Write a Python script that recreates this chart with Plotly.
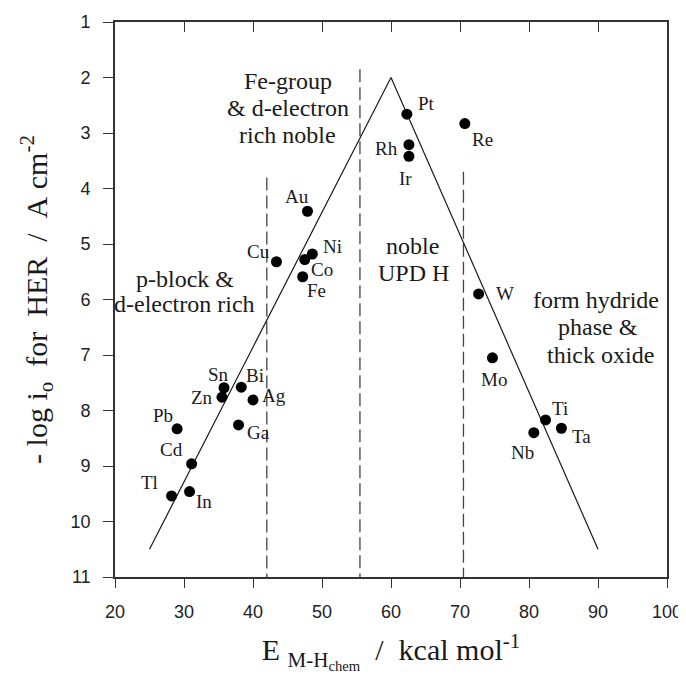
import plotly.graph_objects as go

# ---- data ----
metals = ["Pt", "Re", "Rh", "Ir", "W", "Mo", "Ti", "Ta", "Nb", "Au", "Cu", "Ni",
          "Co", "Fe", "Sn", "Zn", "Bi", "Ag", "Ga", "Pb", "Cd", "Tl", "In"]
e_mh = [62.3, 70.7, 62.6, 62.6, 72.7, 74.7, 82.4, 84.7, 80.7, 47.9, 43.4, 48.6,
        47.5, 47.2, 35.8, 35.5, 38.3, 40.0, 37.9, 29.0, 31.1, 28.2, 30.8]
log_i0 = [2.66, 2.83, 3.21, 3.42, 5.90, 7.05, 8.17, 8.32, 8.40, 4.41, 5.32, 5.18,
          5.28, 5.59, 7.59, 7.76, 7.58, 7.81, 8.26, 8.33, 8.96, 9.54, 9.46]

volcano_x = [25, 60, 90]
volcano_y = [10.5, 2.0, 10.5]

divider_x = [42, 55.5, 70.5]
divider_top = [3.8, 1.85, 3.7]

x_ticks = [20, 30, 40, 50, 60, 70, 80, 90, 100]
y_ticks = [1, 2, 3, 4, 5, 6, 7, 8, 9, 10, 11]

region_lines = ["Fe-group", "& d-electron", "rich noble",
                "noble", "UPD H",
                "form hydride", "phase &", "thick oxide",
                "p-block &", "d-electron rich"]
region_x = [45.0, 45.0, 45.0, 63.1, 63.2, 89.7, 90.0, 90.4, 30.1, 30.0]
region_y = [2.06, 2.55, 3.03, 5.04, 5.53, 6.01, 6.50, 7.00, 5.63, 6.08]

# label offsets in pixels (dx right, dy down) -- layout only
label_offset = {
    "Pt": (20, -11), "Re": (18, 16), "Rh": (-22, 4), "Ir": (-3, 22), "W": (26, 0),
    "Mo": (2, 22), "Ti": (14, -11), "Ta": (20, 8), "Nb": (-11, 20), "Au": (-11, -15),
    "Cu": (-18, -10), "Ni": (20, -7), "Co": (17, 10), "Fe": (14, 14), "Sn": (-6, -13),
    "Zn": (-20, 0), "Bi": (14, -12), "Ag": (21, -4), "Ga": (20, 8), "Pb": (-14, -13),
    "Cd": (-20, -14), "Tl": (-22, -13), "In": (14, 10),
}

SERIF = "Liberation Serif, Times New Roman, serif"
SANS = "Liberation Sans, Arial, sans-serif"
INK = "#1a1a1a"

fig = go.Figure()

# dashed dividers
for xv, top in zip(divider_x, divider_top):
    fig.add_trace(go.Scatter(x=[xv, xv], y=[top, 11], mode="lines",
                             line=dict(color="#444", width=1.3, dash="13px,5px"),
                             hoverinfo="skip", showlegend=False))

# volcano line
fig.add_trace(go.Scatter(x=volcano_x, y=volcano_y, mode="lines",
                         line=dict(color=INK, width=1.2),
                         hoverinfo="skip", showlegend=False))

# metal points
fig.add_trace(go.Scatter(x=e_mh, y=log_i0, mode="markers",
                         marker=dict(color="black", size=11),
                         text=metals, showlegend=False))

# dummy trace for the top (mirrored) axis
fig.add_trace(go.Scatter(x=[20, 100], y=[11, 11], xaxis="x2", mode="markers",
                         marker=dict(size=0.1, opacity=0), hoverinfo="skip",
                         showlegend=False))

annotations = []
for name, xv, yv in zip(metals, e_mh, log_i0):
    dx, dy = label_offset[name]
    annotations.append(dict(x=xv, y=yv, xref="x", yref="y", text=name,
                            showarrow=False, xshift=dx, yshift=-dy,
                            font=dict(family=SERIF, size=19, color=INK)))

for t, xv, yv in zip(region_lines, region_x, region_y):
    annotations.append(dict(x=xv, y=yv, xref="x", yref="y", text=t,
                            showarrow=False,
                            font=dict(family=SERIF, size=24, color=INK)))

# the page body adds an 8px offset, so the figure is 8px smaller
fig.update_layout(
    width=678, height=671, autosize=False,
    margin=dict(l=107, r=19, t=14, b=102),
    paper_bgcolor="white", plot_bgcolor="white",
    showlegend=False,
    annotations=annotations,
    xaxis=dict(range=[20, 100], tickvals=x_ticks, ticks="outside", ticklen=9,
               tickwidth=1.3, tickcolor="#333", showgrid=False, zeroline=False,
               showline=True, linecolor="#333", linewidth=1.6, mirror=True,
               automargin=False,
               tickfont=dict(family=SANS, size=18, color="#222"),
               ticklabelstandoff=9,
               title=dict(text="E\u00a0<sub>M-H<sub>chem</sub></sub>\u00a0\u00a0/\u00a0\u00a0kcal mol<sup>-1</sup>",
                          font=dict(family=SERIF, size=30, color=INK), standoff=18)),
    xaxis2=dict(range=[20, 100], tickvals=x_ticks, overlaying="x", side="top",
                anchor="y", ticks="inside", ticklen=10, tickwidth=1.3,
                tickcolor="#333", showticklabels=False, showgrid=False,
                automargin=False,
                zeroline=False, showline=True, linecolor="#333", linewidth=1.6),
    yaxis=dict(range=[11, 1], tickvals=y_ticks, ticks="outside", ticklen=10,
               tickwidth=1.3, tickcolor="#333", showgrid=False, zeroline=False,
               showline=True, linecolor="#333", linewidth=1.6, mirror=True,
               automargin=False,
               tickfont=dict(family=SANS, size=18, color="#222"),
               ticklabelstandoff=9,
               title=dict(text="-\u00a0log\u00a0i<sub>o</sub>\u00a0\u00a0for\u00a0\u00a0HER\u00a0\u00a0/\u00a0\u00a0A\u00a0cm<sup>-2</sup>",
                          font=dict(family=SERIF, size=30, color=INK), standoff=14)),
)

fig.write_html("out.html")
